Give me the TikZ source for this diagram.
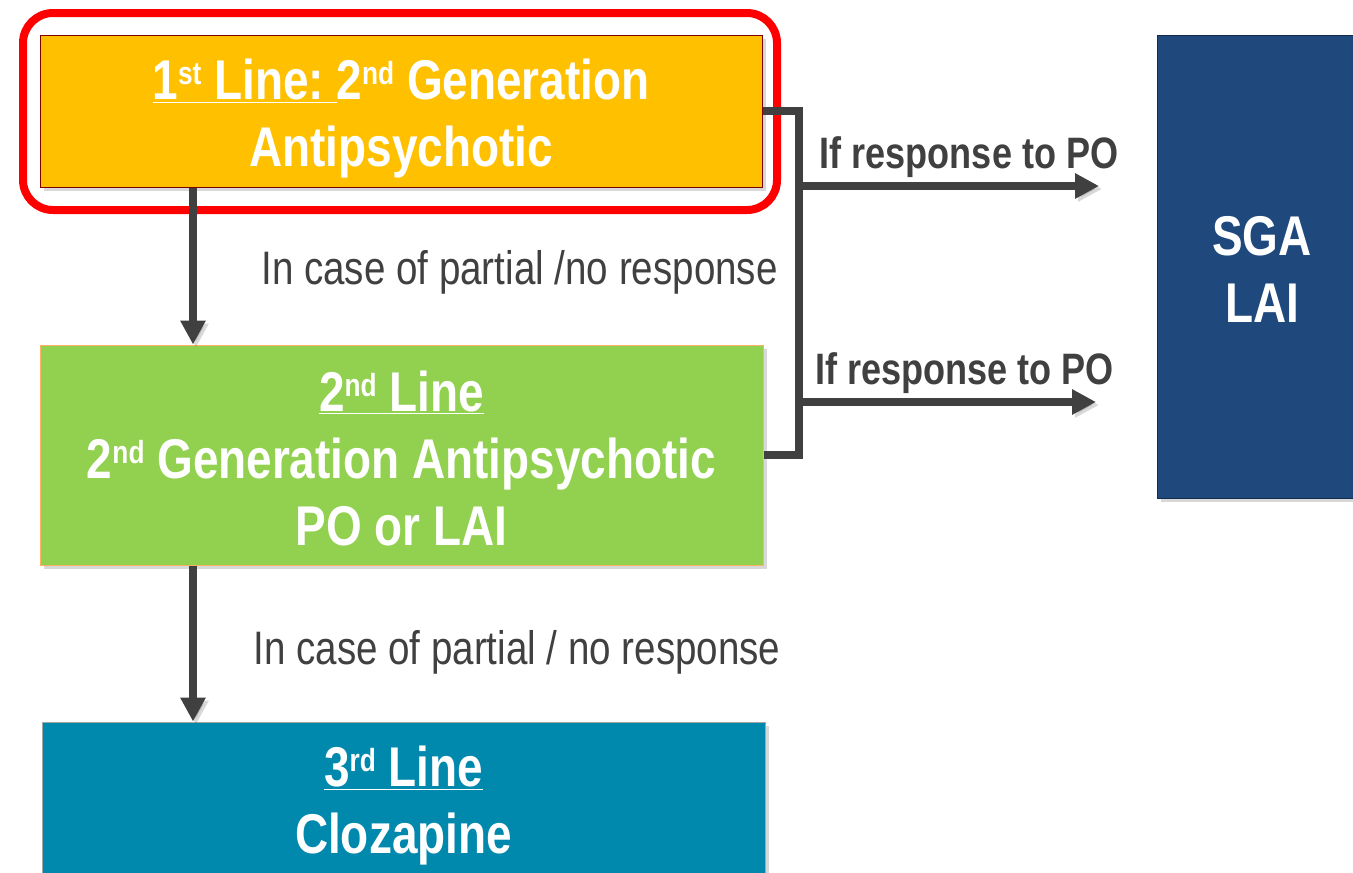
\documentclass[tikz,border=0pt]{standalone}
\usepackage{fontspec}
\setmainfont{Liberation Sans}[FakeStretch=0.82]
\usetikzlibrary{arrows.meta,shadows}
\definecolor{lineone}{HTML}{FFC000}
\definecolor{linetwo}{HTML}{92D050}
\definecolor{linethree}{HTML}{0089AD}
\definecolor{sgablue}{HTML}{1F497D}
\definecolor{darkgrey}{HTML}{404040}
\newcommand\ordsup[1]{\raisebox{15pt}{\fontsize{32}{32}\selectfont #1}}
\tikzset{
  >={Triangle[length=24pt,width=24pt]},
  x=1pt, y=-1pt,
}
\tikzstyle{stage}=[line width=1pt, inner sep=0pt,
  drop shadow={shadow xshift=4pt, shadow yshift=-4pt, opacity=.3}]
\tikzstyle{caption}=[text=white, align=center, inner sep=0pt,
  font=\fontsize{56}{67}\selectfont\bfseries]
\tikzstyle{link}=[line width=8pt, draw=darkgrey,
  preaction={draw=black, opacity=.15, transform canvas={xshift=3pt,yshift=-3pt}}]
\tikzstyle{note}=[text=darkgrey, font=\fontsize{47}{50}\selectfont, inner sep=0pt]
\tikzstyle{answer}=[text=darkgrey, font=\fontsize{44}{48}\selectfont\bfseries, inner sep=0pt]

\begin{document}
\begin{tikzpicture}
    \fill[white] (0,0) rectangle (1353,873);
    \useasboundingbox (0,0) rectangle (1353,873);
    % treatment lines
    \node[stage, fill=lineone, draw=red!50!black, minimum width=722pt, minimum height=152pt] (first) at (401,111) {};
    \node[stage, fill=linetwo, draw=orange!60, minimum width=723pt, minimum height=220pt] (second) at (401.5,455) {};
    \node[stage, fill=linethree, draw=gray!70, minimum width=723pt, minimum height=160pt] (third) at (403.5,802) {};
    \node[stage, fill=sgablue, draw=sgablue!60!black, minimum width=210pt, minimum height=463pt] (sga) at (1262,266.5) {};
    \node[caption] (firstText) at ([yshift=-8pt]first.center)
      {\underline{1\ordsup{st} Line:\ }2\ordsup{nd} Generation\\Antipsychotic};
    \node[caption] (secondText) at ([yshift=-3pt]second.center)
      {\underline{2\ordsup{nd} Line}\\2\ordsup{nd} Generation Antipsychotic\\PO or LAI};
    \node[caption] (thirdText) at ([yshift=-4pt]third.center)
      {\underline{3\ordsup{rd} Line}\\Clozapine};
    \node[caption] (sgaText) at ([yshift=-3pt]sga.center) {SGA\\LAI};
    % highlight
    \draw[red, line width=8pt, rounded corners=30pt,
      preaction={draw=black, opacity=.15, transform canvas={xshift=3pt,yshift=-3pt}}] (23,13) rectangle (777,210);
    % connectors
    \coordinate (spine) at (193,0);
    \coordinate (bend) at (799,0);
    \coordinate (tipA) at (1099,186);
    \coordinate (tipB) at (1096,402);
    \draw[link,->] (first.south -| spine) -- (second.north -| spine);
    \draw[link,->] (second.south -| spine) -- (third.north -| spine);
    \draw[link] (first.east) -- (first.east -| bend) -- (second.east -| bend) -- (second.east);
    \draw[link,->] (tipA -| bend) -- (tipA);
    \draw[link,->] (tipB -| bend) -- (tipB);
    % labels
    \node[note] (failA) at (519.5,272) {In case of partial /no response};
    \node[note] (failB) at (517,652) {In case of partial / no response};
    \node[answer] (okA) at (969,157) {If response to PO};
    \node[answer] (okB) at (964.5,373) {If response to PO};
\end{tikzpicture}
\end{document}
